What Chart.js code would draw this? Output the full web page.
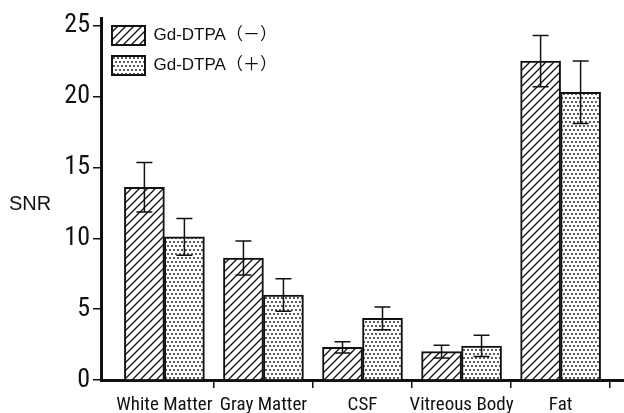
<!DOCTYPE html>
<html>
<head>
<meta charset="utf-8">
<script src="https://cdn.jsdelivr.net/npm/chart.js@4.4.1/dist/chart.umd.min.js"></script>
<style>
  body { margin: 0; background: #fff; }
</style>
</head>
<body>
<canvas id="snr_chart" width="624" height="413"></canvas>
<script>
// tissues along the x axis
const tissues = ['White Matter', 'Gray Matter', 'CSF', 'Vitreous Body', 'Fat'];
const seriesNames = ['Gd-DTPA（－）', 'Gd-DTPA（＋）'];

// mean SNR and error (±)
const snrMinus = [13.6, 8.6, 2.3, 2.0, 22.5];
const errMinus = [1.75, 1.2, 0.4, 0.45, 1.8];
const snrPlus = [10.1, 6.0, 4.35, 2.4, 20.3];
const errPlus = [1.3, 1.15, 0.8, 0.75, 2.2];

const yTicks = [0, 5, 10, 15, 20, 25];

const narrowFont = "'Roboto Condensed', 'DejaVu Sans Condensed', sans-serif";
const ink = '#111';

// hatched pattern ////
function makeHatch() {
    const c = document.createElement('canvas');
    c.width = 8; c.height = 8;
    const g = c.getContext('2d');
    g.fillStyle = '#fff';
    g.fillRect(0, 0, 8, 8);
    g.strokeStyle = ink;
    g.lineWidth = 1.3;
    g.beginPath();
    g.moveTo(-1, 9); g.lineTo(9, -1);
    g.moveTo(-1, 1); g.lineTo(1, -1);
    g.moveTo(7, 9); g.lineTo(9, 7);
    g.stroke();
    return g.createPattern(c, 'repeat');
}

// stippled pattern ....
function makeDots() {
    const c = document.createElement('canvas');
    c.width = 8; c.height = 8;
    const g = c.getContext('2d');
    g.fillStyle = '#fff';
    g.fillRect(0, 0, 8, 8);
    g.fillStyle = ink;
    [[2, 2], [6, 2], [0, 6], [4, 6], [8, 6]].forEach(([x, y]) => {
        g.beginPath();
        g.arc(x, y, 0.9, 0, Math.PI * 2);
        g.fill();
    });
    return g.createPattern(c, 'repeat');
}

const errors = [errMinus, errPlus];

// error bars with caps on both ends
const errorBars = {
    id: 'errorBars',
    afterDatasetsDraw(chart) {
        const { ctx, scales: { y } } = chart;
        ctx.save();
        ctx.strokeStyle = ink;
        ctx.lineWidth = 1.5;
        chart.data.datasets.forEach((ds, di) => {
            const meta = chart.getDatasetMeta(di);
            meta.data.forEach((bar, i) => {
                const v = ds.data[i].y;
                const e = errors[di][i];
                const top = y.getPixelForValue(v + e);
                const bot = y.getPixelForValue(v - e);
                const half = 8;
                ctx.beginPath();
                ctx.moveTo(bar.x, top); ctx.lineTo(bar.x, bot);
                ctx.moveTo(bar.x - half, top); ctx.lineTo(bar.x + half, top);
                ctx.moveTo(bar.x - half, bot); ctx.lineTo(bar.x + half, bot);
                ctx.stroke();
            });
        });
        ctx.restore();
    }
};

// horizontal "SNR" axis caption at the left
const snrCaption = {
    id: 'snrCaption',
    afterDraw(chart) {
        const { ctx, chartArea } = chart;
        ctx.save();
        ctx.fillStyle = ink;
        ctx.font = "20px 'Liberation Sans', Arial, sans-serif";
        ctx.textAlign = 'left';
        ctx.textBaseline = 'middle';
        ctx.fillText('SNR', 9, (chartArea.top + chartArea.bottom) / 2 + 5);
        ctx.restore();
    }
};

const ctx = document.getElementById('snr_chart').getContext('2d');

const snr_chart = new Chart(ctx, {
    type: 'bar',
    data: {
        datasets: [{
            label: seriesNames[0],
            data: tissues.map((t, i) => ({ x: i, y: snrMinus[i] })),
            backgroundColor: makeHatch(),
            borderColor: ink,
            borderWidth: 2
        }, {
            label: seriesNames[1],
            data: tissues.map((t, i) => ({ x: i, y: snrPlus[i] })),
            backgroundColor: makeDots(),
            borderColor: ink,
            borderWidth: 2
        }]
    },
    options: {
        responsive: false,
        animation: false,
        barThickness: 40,
        layout: {
            padding: { left: 0, right: 0, top: 0, bottom: 0 }
        },
        plugins: {
            legend: {
                position: 'chartArea',
                align: 'start',
                title: {
                    display: true,
                    text: '',
                    font: { size: 10, lineHeight: 1 },
                    padding: { top: 5, bottom: 0 }
                },
                labels: {
                    color: ink,
                    font: { family: "'Liberation Sans', 'Noto Sans CJK JP', sans-serif", size: 17 },
                    boxWidth: 33,
                    boxHeight: 19,
                    padding: 11
                }
            },
            tooltip: { enabled: false }
        },
        scales: {
            x: {
                type: 'linear',
                offset: false,
                min: -0.64,
                max: 4.64,
                afterBuildTicks: (scale) => {
                    const t = [];
                    tissues.forEach((name, i) => { t.push({ value: i }); t.push({ value: i + 0.5 }); });
                    scale.ticks = t;
                },
                afterFit: (scale) => { scale.height = 33; },
                ticks: {
                    autoSkip: false,
                    maxRotation: 0,
                    padding: 8,
                    color: ink,
                    font: { family: narrowFont, size: 19, lineHeight: 1 },
                    callback: (value) => Number.isInteger(value) ? tissues[value] : ''
                },
                grid: {
                    offset: false,
                    drawOnChartArea: false,
                    drawTicks: true,
                    tickLength: 8,
                    lineWidth: 1.5,
                    color: (c) => (c.tick && !Number.isInteger(c.tick.value)) ? ink : 'rgba(0,0,0,0)',
                    tickColor: (c) => (c.tick && !Number.isInteger(c.tick.value)) ? ink : 'rgba(0,0,0,0)'
                },
                border: { display: true, color: ink, width: 3 }
            },
            y: {
                min: 0,
                max: 25.5,
                afterBuildTicks: (scale) => {
                    scale.ticks = yTicks.map(v => ({ value: v }));
                },
                afterFit: (scale) => { scale.width = 101; },
                ticks: {
                    padding: 3,
                    color: ink,
                    font: { family: narrowFont, size: 26 }
                },
                grid: {
                    drawOnChartArea: false,
                    drawTicks: true,
                    tickLength: 8,
                    lineWidth: 1.5,
                    color: ink
                },
                border: { display: true, color: ink, width: 3 }
            }
        }
    },
    plugins: [errorBars, snrCaption]
});
</script>
</body>
</html>
